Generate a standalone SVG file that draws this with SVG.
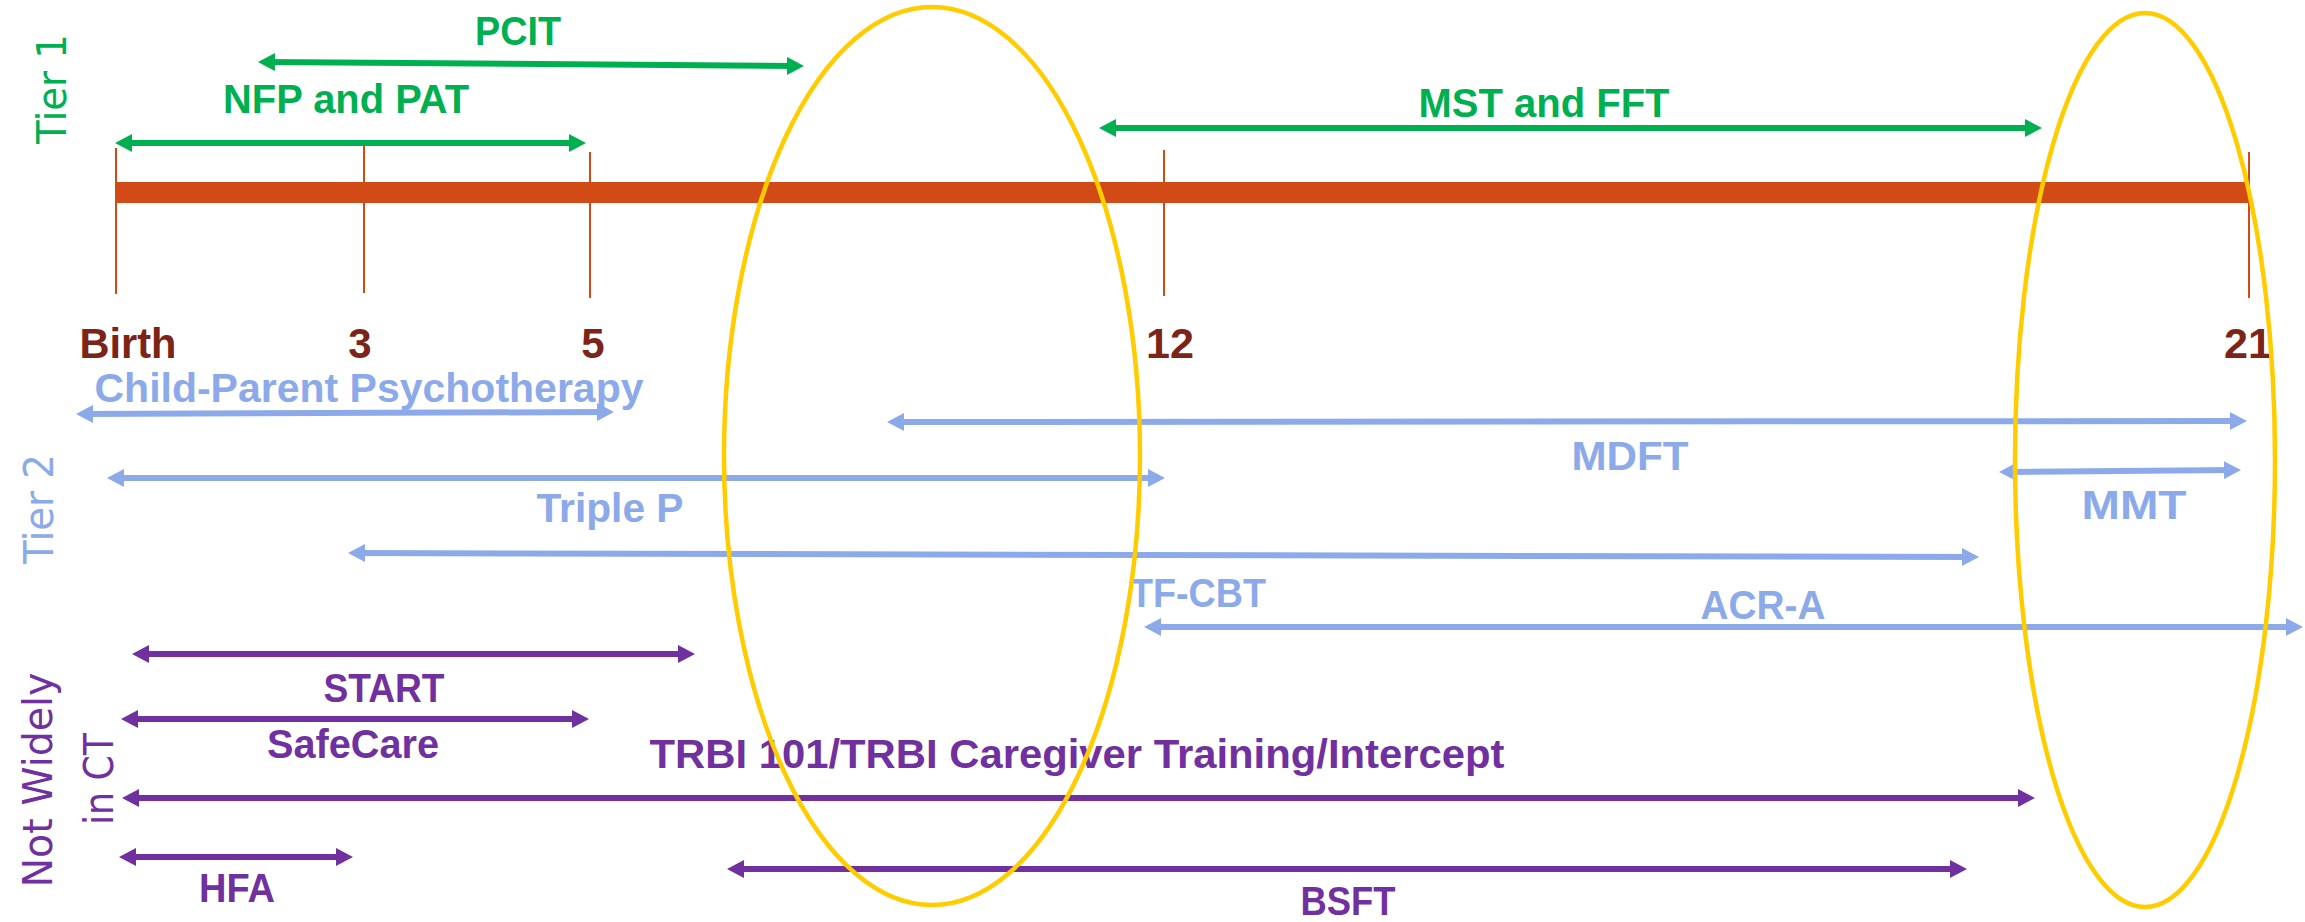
<svg xmlns="http://www.w3.org/2000/svg" width="2305" height="922" viewBox="0 0 2305 922">
<defs>
<style>
.lbl{font-family:"Liberation Sans",Arial,sans-serif;font-weight:bold;font-size:40px;text-anchor:middle}
.age{font-family:"Liberation Sans",Arial,sans-serif;font-weight:bold;font-size:42px;text-anchor:middle;fill:#7B2417}
.tier{font-family:"DejaVu Sans",Verdana,sans-serif;font-size:41px;text-anchor:middle}
.g{fill:#00B050}.b{fill:#8CAAE9}.p{fill:#7030A0}
.lg{stroke:#00B050;stroke-width:6;fill:none;marker-start:url(#mg);marker-end:url(#mg)}
.lb{stroke:#8CAAE9;stroke-width:6;fill:none;marker-start:url(#mb);marker-end:url(#mb)}
.lp{stroke:#7030A0;stroke-width:6;fill:none;marker-start:url(#mp);marker-end:url(#mp)}
.tick{stroke:#D24B17;stroke-width:2}
.ell{fill:none;stroke:#FFCC00;stroke-width:4.5}
</style>
<marker id="mg" viewBox="0 0 17 18" refX="10" refY="9" markerWidth="17" markerHeight="18" markerUnits="userSpaceOnUse" orient="auto-start-reverse"><path d="M0,0L17,9L0,18z" fill="#00B050"/></marker>
<marker id="mb" viewBox="0 0 17 18" refX="10" refY="9" markerWidth="17" markerHeight="18" markerUnits="userSpaceOnUse" orient="auto-start-reverse"><path d="M0,0L17,9L0,18z" fill="#8CAAE9"/></marker>
<marker id="mp" viewBox="0 0 17 18" refX="10" refY="9" markerWidth="17" markerHeight="18" markerUnits="userSpaceOnUse" orient="auto-start-reverse"><path d="M0,0L17,9L0,18z" fill="#7030A0"/></marker>
</defs>
<rect width="2305" height="922" fill="#FFFFFF"/>

<g id="timeline">
<rect x="116" y="182" width="2133" height="21" fill="#D24B17"/>
<line class="tick" x1="116" y1="148" x2="116" y2="294"/>
<line class="tick" x1="364" y1="146" x2="364" y2="293"/>
<line class="tick" x1="590" y1="152" x2="590" y2="298"/>
<line class="tick" x1="1164" y1="150" x2="1164" y2="296"/>
<line class="tick" x1="2249" y1="152" x2="2249" y2="298"/>
</g>

<g id="age-labels">
<text class="age" x="128" y="358" textLength="97" lengthAdjust="spacingAndGlyphs">Birth</text>
<text class="age" x="360" y="358">3</text>
<text class="age" x="593" y="358">5</text>
<text class="age" x="1170" y="358" textLength="48" lengthAdjust="spacingAndGlyphs">12</text>
<text class="age" x="2248" y="358" textLength="48" lengthAdjust="spacingAndGlyphs">21</text>
</g>

<g id="tier-labels">
<text class="tier g" transform="translate(66,89) rotate(-90)" textLength="110" lengthAdjust="spacingAndGlyphs">Tier 1</text>
<text class="tier b" transform="translate(53,509) rotate(-90)" textLength="110" lengthAdjust="spacingAndGlyphs">Tier 2</text>
<text class="tier p" transform="translate(52,780) rotate(-90)" font-size="40" textLength="215" lengthAdjust="spacingAndGlyphs">Not Widely</text>
<text class="tier p" transform="translate(113,779) rotate(-90)" font-size="40" textLength="92" lengthAdjust="spacingAndGlyphs">in CT</text>
</g>

<g id="connectors">
<line class="lg" x1="265" y1="62" x2="797" y2="66"/>
<line class="lg" x1="122" y1="143" x2="579" y2="143"/>
<line class="lg" x1="1106" y1="128" x2="2035" y2="128"/>
<line class="lb" x1="83" y1="414" x2="607" y2="412"/>
<line class="lb" x1="894" y1="422" x2="2240" y2="421"/>
<line class="lb" x1="114" y1="478" x2="1158" y2="478"/>
<line class="lb" x1="355" y1="553" x2="1972" y2="557"/>
<line class="lb" x1="2006" y1="472" x2="2234" y2="470"/>
<line class="lb" x1="1151" y1="627" x2="2296" y2="627"/>
<line class="lp" x1="139" y1="654" x2="688" y2="654"/>
<line class="lp" x1="128" y1="719" x2="582" y2="719"/>
<line class="lp" x1="129" y1="798" x2="2028" y2="798"/>
<line class="lp" x1="126" y1="857" x2="346" y2="857"/>
<line class="lp" x1="734" y1="869" x2="1960" y2="869"/>
</g>

<g id="node-pcit"><text class="lbl g" x="518" y="45" textLength="86" lengthAdjust="spacingAndGlyphs">PCIT</text></g>
<g id="node-nfp"><text class="lbl g" x="346" y="113" textLength="246" lengthAdjust="spacingAndGlyphs">NFP and PAT</text></g>
<g id="node-mst"><text class="lbl g" x="1544" y="117" textLength="251" lengthAdjust="spacingAndGlyphs">MST and FFT</text></g>
<g id="node-cpp"><text class="lbl b" x="369" y="402" textLength="549" lengthAdjust="spacingAndGlyphs">Child-Parent Psychotherapy</text></g>
<g id="node-mdft"><text class="lbl b" x="1630" y="470" textLength="117" lengthAdjust="spacingAndGlyphs">MDFT</text></g>
<g id="node-triplep"><text class="lbl b" x="610" y="522" textLength="147" lengthAdjust="spacingAndGlyphs">Triple P</text></g>
<g id="node-mmt"><text class="lbl b" x="2134" y="519" textLength="105" lengthAdjust="spacingAndGlyphs">MMT</text></g>
<g id="node-tfcbt"><text class="lbl b" x="1198" y="607" textLength="136" lengthAdjust="spacingAndGlyphs">TF-CBT</text></g>
<g id="node-acra"><text class="lbl b" x="1763" y="619" textLength="125" lengthAdjust="spacingAndGlyphs">ACR-A</text></g>
<g id="node-start"><text class="lbl p" x="384" y="702" textLength="121" lengthAdjust="spacingAndGlyphs">START</text></g>
<g id="node-safecare"><text class="lbl p" x="353" y="758" textLength="172" lengthAdjust="spacingAndGlyphs">SafeCare</text></g>
<g id="node-trbi"><text class="lbl p" x="1077" y="768" textLength="855" lengthAdjust="spacingAndGlyphs">TRBI 101/TRBI Caregiver Training/Intercept</text></g>
<g id="node-hfa"><text class="lbl p" x="237" y="902" textLength="76" lengthAdjust="spacingAndGlyphs">HFA</text></g>
<g id="node-bsft"><text class="lbl p" x="1348" y="915" textLength="95" lengthAdjust="spacingAndGlyphs">BSFT</text></g>

<g id="highlights">
<ellipse class="ell" cx="932" cy="456" rx="208" ry="449"/>
<ellipse class="ell" cx="2145" cy="460" rx="130" ry="447"/>
</g>
</svg>
